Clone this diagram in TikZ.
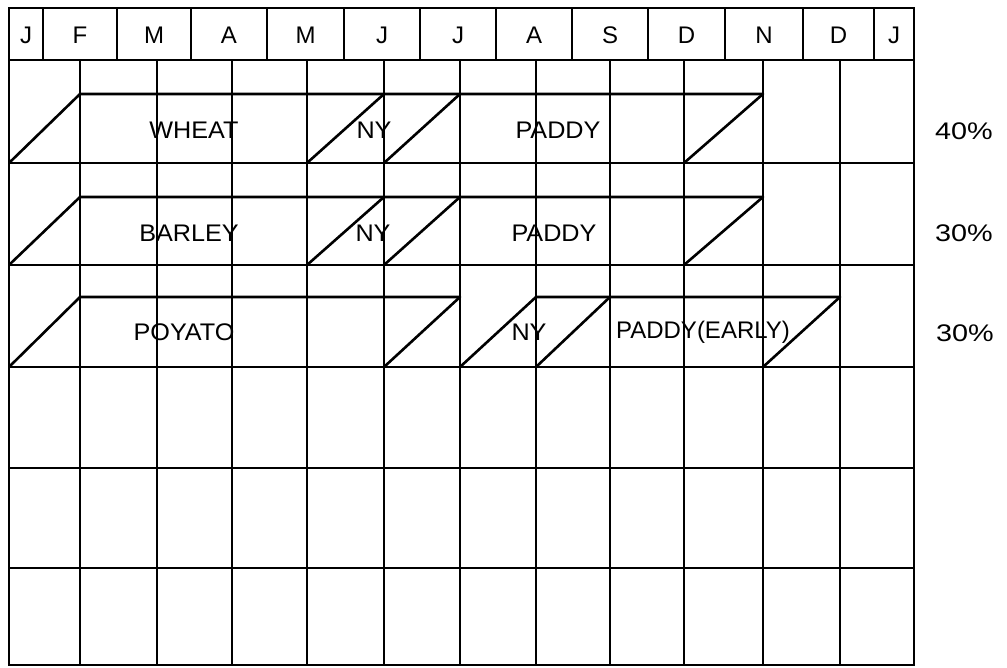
\documentclass[tikz,border=0pt]{standalone}
\usepackage{fontspec}
\setmainfont{Liberation Sans}
\begin{document}
\begin{tikzpicture}[x=1pt,y=-1pt,
  grid/.style={line width=2.5pt,line cap=rect},
  crop/.style={line width=2.6pt,line cap=round,line join=round},
  lbl/.style={font=\fontsize{24}{24}\selectfont,inner sep=0pt,anchor=center},
  pct/.style={font=\fontsize{24}{24}\selectfont,inner sep=0pt,anchor=center}]
\useasboundingbox (0,0) rectangle (1007,667);
% header
\draw[grid] (9,8) -- (914,8);
\foreach \x in {9,43,117,191,267,344,420,496,572,648,725,803,874,914}
  \draw[grid] (\x,8) -- (\x,60);
\draw[grid] (9,60) -- (914,60);
\foreach \x/\m/\n in {26/J/h1,80/F/h2,154/M/h3,229/A/h4,305.5/M/h5,382/J/h6,458/J/h7,534/A/h8,610/S/h9,686.5/D/h10,764/N/h11,838.5/D/h12,894/J/h13}
  \node[lbl] (\n) at (\x,35) {\m};
% body grid
\draw[grid] (9,60) -- (9,665);
\foreach \x in {80,157,232,307,384,460,536,610,684,763,840,914}
  \draw[grid] (\x,60) -- (\x,665);
\foreach \y in {163,265,367,468,568,665}
  \draw[grid] (9,\y) -- (914,\y);
% band 1
\draw[crop] (9,163) -- (80,94) -- (763,94);
\draw[crop] (307,163) -- (384,94);
\draw[crop] (384,163) -- (460,94);
\draw[crop] (684,163) -- (763,94);
% band 2
\draw[crop] (9,265) -- (80,197) -- (763,197);
\draw[crop] (307,265) -- (384,197);
\draw[crop] (384,265) -- (460,197);
\draw[crop] (684,265) -- (763,197);
% band 3
\draw[crop] (9,367) -- (80,297) -- (460,297);
\draw[crop] (384,367) -- (460,297);
\draw[crop] (460,367) -- (536,297) -- (840,297);
\draw[crop] (536,367) -- (610,297);
\draw[crop] (763,367) -- (840,297);
% labels
\node[lbl] (wheat) at (194,130) {\scalebox{1.05}[1]{WHEAT}};
\node[lbl] (ny1) at (374,130) {\scalebox{1.05}[1]{NY}};
\node[lbl] (paddy1) at (558,130) {\scalebox{1.05}[1]{PADDY}};
\node[lbl] (barley) at (189,233) {\scalebox{1.05}[1]{BARLEY}};
\node[lbl] (ny2) at (373,233) {\scalebox{1.05}[1]{NY}};
\node[lbl] (paddy2) at (554,233) {\scalebox{1.05}[1]{PADDY}};
\node[lbl] (poyato) at (184,332) {\scalebox{1.05}[1]{POYATO}};
\node[lbl] (ny3) at (529,332) {\scalebox{1.05}[1]{NY}};
\node[lbl] (paddy3) at (703,332) {\scalebox{1.0}[1]{PADDY(EARLY)}};
\node[pct] (p1) at (964,131) {\scalebox{1.2}[1]{40\%}};
\node[pct] (p2) at (964,233) {\scalebox{1.2}[1]{30\%}};
\node[pct] (p3) at (965,333) {\scalebox{1.2}[1]{30\%}};
\end{tikzpicture}
\end{document}
